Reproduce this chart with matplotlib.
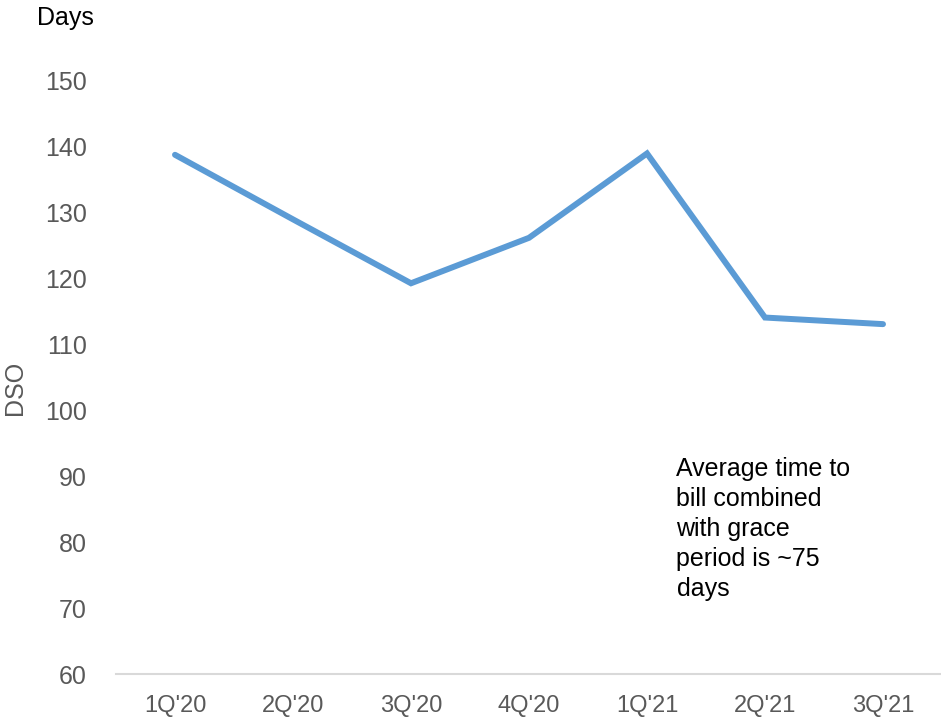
import matplotlib
matplotlib.use("Agg")
import matplotlib.pyplot as plt

quarters = ["1Q'20", "2Q'20", "3Q'20", "4Q'20", "1Q'21", "2Q'21", "3Q'21"]
dso_days = [138.8, 129.0, 119.3, 126.2, 139.0, 114.1, 113.1]
y_ticks = [60, 70, 80, 90, 100, 110, 120, 130, 140, 150]
note = "Average time to\nbill combined\nwith grace\nperiod is ~75\ndays"

plt.rcParams["font.family"] = ["Liberation Sans", "DejaVu Sans"]

fig = plt.figure(figsize=(9.41, 7.18), dpi=100)
ax = fig.add_axes([116 / 941, 44 / 718, 826 / 941, (674 - 81) / 718])

x = list(range(len(quarters)))
ax.plot(x, dso_days, color="#5B9BD5", linewidth=4.3, solid_capstyle="round",
        solid_joinstyle="miter")

ax.set_xlim(-0.5, len(quarters) - 0.5)
ax.set_ylim(60, 150)
ax.set_yticks(y_ticks)
ax.set_xticks(x)
ax.set_xticklabels(quarters)

for side in ["top", "right", "left"]:
    ax.spines[side].set_visible(False)
ax.spines["bottom"].set_color("#D9D9D9")
ax.spines["bottom"].set_linewidth(1.5)
ax.spines["bottom"].set_clip_on(False)

ax.tick_params(axis="y", length=0, pad=21, labelsize=18, labelcolor="#595959")
ax.tick_params(axis="x", length=0, pad=15, labelsize=17, labelcolor="#595959")

fig.text(15 / 941, 1 - 388 / 718, "DSO", fontsize=18, color="#595959",
         rotation=90, ha="center", va="center")

fig.text(37 / 941, 1 - 18 / 718, "Days", fontsize=18, color="black",
         ha="left", va="center")

ax.text(4.25, 92.9, note, fontsize=18, color="black", ha="left", va="top",
        linespacing=1.31)

fig.savefig("out.png", dpi=100)
